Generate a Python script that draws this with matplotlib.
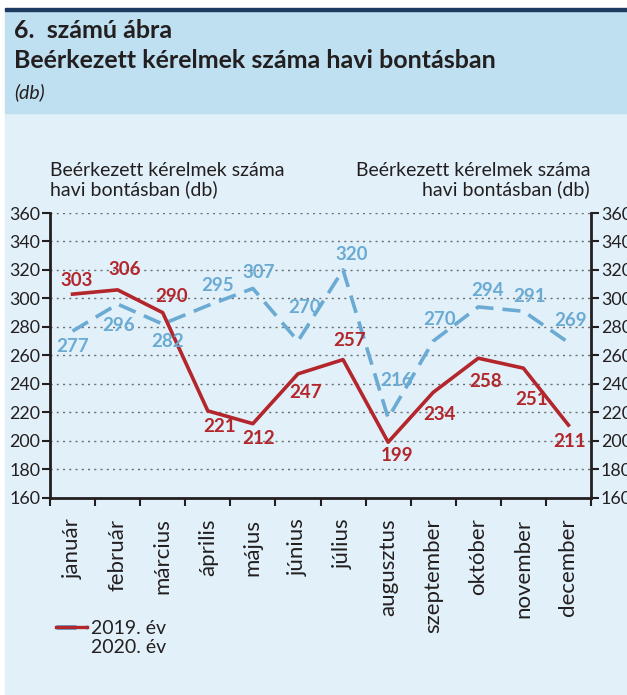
import matplotlib
matplotlib.use("Agg")
import matplotlib.pyplot as plt
from matplotlib.patches import Rectangle
from matplotlib.lines import Line2D
from matplotlib.legend_handler import HandlerTuple
import numpy as np

plt.rcParams['font.family'] = ['Lato', 'DejaVu Sans']

months = ["január", "február", "március", "április", "május", "június",
          "július", "augusztus", "szeptember", "október", "november", "december"]
val_2020 = [303, 306, 290, 221, 212, 247, 257, 199, 234, 258, 251, 211]
val_2019 = [277, 296, 282, 295, 307, 270, 320, 216, 270, 294, 291, 269]
yticks = list(range(160, 361, 20))

# label offsets in pixels (dx, dy)
off_2020 = [(4, 14), (7, 20), (9, 16), (12, -16), (6, -15), (8, -19),
            (7, 19), (9, -13), (6, -22), (7, -23), (8, -31), (1, -16)]
off_2019 = [(0, -15), (1, -21), (5, -17), (10, 20), (6, 16), (7, 34),
            (9, 15), (8, 37), (6, 22), (9, 16), (6, 15), (2, 22)]

red = "#B3262B"
blue = "#6AAAD3"
text_c = "#231F20"

W, H = 627, 695
fig = plt.figure(figsize=(W / 100, H / 100), dpi=100)
fig.patch.set_facecolor("white")

def fx(px):
    return px / W

def fy(py):
    return 1 - py / H

# background panels
fig.patches.append(Rectangle((fx(5), 0), fx(622), (H - 113) / H,
                             transform=fig.transFigure, color="#E2F1F9", zorder=-5))
fig.patches.append(Rectangle((fx(5), fy(113)), fx(622), 103 / H,
                             transform=fig.transFigure, color="#BEE0F1", zorder=-5))
fig.patches.append(Rectangle((fx(5), fy(11)), fx(622), 3 / H,
                             transform=fig.transFigure, color="#1F3A60", zorder=-5))

fig.text(fx(14), fy(31), "6.  számú ábra", fontsize=18, fontweight="bold",
         color=text_c, va="center")
fig.text(fx(14), fy(60), "Beérkezett kérelmek száma havi bontásban", fontsize=18,
         fontweight="bold", color=text_c, va="center")
fig.text(fx(14), fy(92), "(db)", fontsize=14, style="italic", color=text_c, va="center")

ax = fig.add_axes([fx(50), fy(497.7), fx(591 - 50), (497.7 - 213) / H])
ax.set_facecolor("none")

x = np.arange(len(months))
ax.plot(x, val_2019, color=blue, lw=2.6, dashes=(5, 2.5), zorder=3)
ax.plot(x, val_2020, color=red, lw=2.6, zorder=4)

for i in range(len(months)):
    ax.annotate(str(val_2020[i]), (x[i], val_2020[i]), xytext=off_2020[i],
                textcoords="offset pixels", ha="center", va="center",
                color=red, fontsize=13.5, fontweight="bold", zorder=5)
    ax.annotate(str(val_2019[i]), (x[i], val_2019[i]), xytext=off_2019[i],
                textcoords="offset pixels", ha="center", va="center",
                color=blue, fontsize=13.5, fontweight="bold", zorder=5)

ax.set_xlim(-0.5, len(months) - 0.5)
ax.set_ylim(160, 360)
ax.set_yticks(yticks)
ax.yaxis.grid(True, linestyle=(0, (1.5, 3)), color="#6D6E71", lw=1)
ax.set_axisbelow(True)

ax.set_xticks(x)
ax.set_xticklabels(months, rotation=90, fontsize=16, color=text_c)
ax.set_xticks(np.arange(-0.5, len(months), 1), minor=True)
ax.tick_params(axis="x", which="major", length=0, pad=15)
ax.tick_params(axis="x", which="minor", length=6, width=1.5, color=text_c)
ax.tick_params(axis="y", direction="out", length=6, width=1.5, color=text_c,
               left=True, right=True, labelleft=True, labelright=True,
               labelsize=12.8, labelcolor=text_c, pad=1)

for s in ["left", "right", "bottom"]:
    ax.spines[s].set_linewidth(2)
    ax.spines[s].set_color(text_c)
ax.spines["top"].set_visible(False)

fig.text(fx(50), fy(180), "Beérkezett kérelmek száma\nhavi bontásban (db)",
         fontsize=14, color=text_c, va="center", ha="left", linespacing=1.05)
fig.text(fx(590), fy(180), "Beérkezett kérelmek száma\nhavi bontásban (db)",
         fontsize=14, color=text_c, va="center", ha="right", linespacing=1.05,
         multialignment="right")

# legend: both handles drawn on the first row, as in the source
h19, = ax.plot([], [], color=blue, lw=3.6, dashes=(4, 2))
h20, = ax.plot([], [], color=red, lw=2.4)
blank = Line2D([], [], alpha=0)
fig.legend([(h19, h20), blank], ["2019. év", "2020. év"],
           handler_map={tuple: HandlerTuple(ndivide=1)},
           loc="upper left", bbox_to_anchor=(fx(38), fy(602)),
           frameon=False, fontsize=14, handlelength=1.6, handletextpad=0.25,
           labelspacing=0.15, labelcolor=text_c)

fig.savefig("out.png", dpi=100)
